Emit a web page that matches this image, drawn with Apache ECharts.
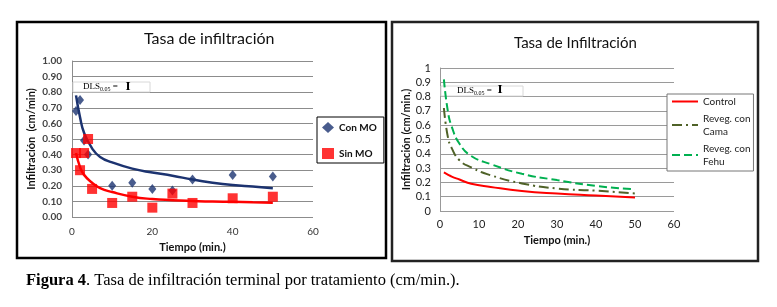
<!DOCTYPE html>
<html><head><meta charset="utf-8">
<script src="https://cdn.jsdelivr.net/npm/echarts@6/dist/echarts.min.js"></script>
<style>html,body{margin:0;padding:0;background:#fff}#c{width:777px;height:307px}</style>
</head><body><div id="c"></div>
<script>
// ---- Left panel data (Tasa de infiltración) ----
const conMOTime   = [1, 2, 3, 4, 10, 15, 20, 25, 30, 40, 50];
const conMOValues = [0.68, 0.75, 0.49, 0.40, 0.20, 0.22, 0.18, 0.17, 0.24, 0.27, 0.26];
const sinMOTime   = [1, 2, 3, 4, 5, 10, 15, 20, 25, 30, 40, 50];
const sinMOValues = [0.41, 0.30, 0.41, 0.50, 0.18, 0.09, 0.13, 0.06, 0.15, 0.09, 0.12, 0.13];
const trendTime   = [1, 2, 3, 5, 7, 10, 15, 20, 25, 30, 35, 40, 45, 50];
const conMOTrend  = [0.78, 0.64, 0.54, 0.44, 0.385, 0.35, 0.31, 0.285, 0.265, 0.24, 0.22, 0.205, 0.195, 0.185];
const sinMOTrend  = [0.41, 0.32, 0.27, 0.22, 0.185, 0.16, 0.13, 0.115, 0.108, 0.103, 0.099, 0.097, 0.094, 0.092];
// ---- Right panel data (Tasa de Infiltración) ----
const curveTime     = [1, 2, 3, 5, 8, 13, 21, 30, 40, 50];
const controlValues = [0.27, 0.255, 0.24, 0.22, 0.19, 0.168, 0.14, 0.122, 0.108, 0.094];
const camaValues    = [0.72, 0.52, 0.44, 0.355, 0.305, 0.25, 0.193, 0.157, 0.142, 0.122];
const fehuValues    = [0.92, 0.70, 0.59, 0.47, 0.385, 0.328, 0.26, 0.216, 0.175, 0.152];
// ---- Text ----
const leftTitle = 'Tasa de infiltración';
const rightTitle = 'Tasa de Infiltración';
const leftLegend = ['Con MO', 'Sin MO'];
const rightLegend = ['Control', 'Reveg. con\nCama', 'Reveg. con\nFehu'];

const pairs = (xs, ys) => xs.map((x, i) => [x, ys[i]]);
const F = 'Lato, "Open Sans", sans-serif';
const SERIF = '"Liberation Serif", "DejaVu Serif", serif';
const navy = '#1c3370';

const chart = echarts.init(document.getElementById('c'), null, {renderer: 'canvas'});
chart.setOption({
  animation: false,
  backgroundColor: '#fff',
  title: [
    {text: leftTitle, left: 139, top: 26, textStyle: {fontFamily: F, fontSize: 16, fontWeight: 'normal', color: '#111'}},
    {text: rightTitle, left: 509, top: 31, textStyle: {fontFamily: F, fontSize: 15, fontWeight: 'normal', color: '#111'}}
  ],
  grid: [
    {left: 72, top: 61, width: 241, height: 156},
    {left: 440, top: 68, width: 234, height: 143}
  ],
  xAxis: [
    {gridIndex: 0, type: 'value', min: 0, max: 60, interval: 20,
     name: 'Tiempo (min.)', nameLocation: 'middle', nameGap: 25,
     nameTextStyle: {fontFamily: F, fontSize: 11, fontWeight: 'bold', color: '#111'},
     axisLine: {show: false}, axisTick: {show: false}, splitLine: {show: false},
     axisLabel: {margin: 10, fontFamily: F, fontSize: 10, color: '#333'}},
    {gridIndex: 1, type: 'value', min: 0, max: 60, interval: 10,
     name: 'Tiempo (min.)', nameLocation: 'middle', nameGap: 24,
     nameTextStyle: {fontFamily: F, fontSize: 11, fontWeight: 'bold', color: '#111'},
     axisLine: {show: false}, axisTick: {show: false}, splitLine: {show: false},
     axisLabel: {margin: 8, fontFamily: F, fontSize: 11, color: '#222'}}
  ],
  yAxis: [
    {gridIndex: 0, type: 'value', min: 0, max: 1, interval: 0.1,
     name: 'Infiltración  (cm/min)', nameLocation: 'middle', nameGap: 35, nameRotate: 90,
     nameTextStyle: {fontFamily: F, fontSize: 11, fontWeight: 'bold', color: '#111'},
     axisLine: {show: true, lineStyle: {color: '#8c8c8c', width: 1}}, axisTick: {show: false},
     splitLine: {lineStyle: {color: '#8c8c8c', width: 1}},
     axisLabel: {margin: 10, fontFamily: F, fontSize: 10, fontWeight: 'bold', color: '#444', formatter: v => v.toFixed(2)}},
    {gridIndex: 1, type: 'value', min: 0, max: 1, interval: 0.1,
     name: 'Infiltración (cm/min.)', nameLocation: 'middle', nameGap: 28, nameRotate: 90,
     nameTextStyle: {fontFamily: F, fontSize: 11, fontWeight: 'bold', color: '#111'},
     axisLine: {show: true, lineStyle: {color: '#999', width: 1}}, axisTick: {show: false},
     splitLine: {lineStyle: {color: '#9a9a9a', width: 1}},
     axisLabel: {margin: 9, fontFamily: F, fontSize: 11, color: '#222',
       formatter: v => String(Math.round(v * 10) / 10)}}
  ],
  legend: [
    {data: [{name: leftLegend[0], icon: 'diamond'}, {name: leftLegend[1], icon: 'rect'}],
     orient: 'vertical', left: 317, top: 117, padding: [5, 7, 4, 5], itemGap: 15,
     itemWidth: 12, itemHeight: 11, borderColor: '#000', borderWidth: 1, backgroundColor: '#fff',
     textStyle: {fontFamily: F, fontSize: 10, fontWeight: 'bold', color: '#111'}},
    {data: rightLegend, orient: 'vertical', left: 667, top: 94, padding: [1, 3, 3, 4], itemGap: 4,
     itemWidth: 26, itemHeight: 12, borderColor: '#777', borderWidth: 1, backgroundColor: '#fff',
     itemStyle: {opacity: 0},
     textStyle: {fontFamily: F, fontSize: 10, color: '#222', lineHeight: 13}}
  ],
  graphic: [
    {type: 'rect', z: 10, shape: {x: 17, y: 22, width: 369, height: 236},
     style: {fill: 'none', stroke: '#000', lineWidth: 2.5}},
    {type: 'rect', z: 10, shape: {x: 392, y: 22, width: 366, height: 239},
     style: {fill: 'none', stroke: '#222', lineWidth: 2.5}},
    {type: 'rect', z: 1, shape: {x: 73, y: 82, width: 77, height: 10},
     style: {fill: '#fff', stroke: '#d8d8d8', lineWidth: 1}},
    {type: 'text', z: 5, x: 83, y: 87,
     style: {text: '{a|DLS}{b|0.05}{a| =}', verticalAlign: 'middle', rich: {
       a: {fontFamily: SERIF, fontSize: 9, fill: '#000'},
       b: {fontFamily: SERIF, fontSize: 6, fill: '#000', padding: [4, 0, 0, 0]}}}},
    {type: 'text', z: 5, x: 128, y: 87,
     style: {text: 'I', fontFamily: SERIF, fontSize: 13, fontWeight: 'bold', fill: '#000', align: 'center', verticalAlign: 'middle'}},
    {type: 'rect', z: 1, shape: {x: 441, y: 86, width: 82, height: 10},
     style: {fill: '#fff', stroke: '#d8d8d8', lineWidth: 1}},
    {type: 'text', z: 5, x: 457, y: 91,
     style: {text: '{a|DLS}{b|0.05}{a| =}', verticalAlign: 'middle', rich: {
       a: {fontFamily: SERIF, fontSize: 9, fill: '#000'},
       b: {fontFamily: SERIF, fontSize: 6, fill: '#000', padding: [4, 0, 0, 0]}}}},
    {type: 'text', z: 5, x: 500, y: 90,
     style: {text: 'I', fontFamily: SERIF, fontSize: 13, fontWeight: 'bold', fill: '#000', align: 'center', verticalAlign: 'middle'}},
    {type: 'text', z: 5, x: 26, y: 281,
     style: {text: '{b|Figura 4}{n|. Tasa de infiltración terminal por tratamiento (cm/min.).}', verticalAlign: 'middle', rich: {
       b: {fontFamily: SERIF, fontSize: 16.5, fontWeight: 'bold', fill: '#000'},
       n: {fontFamily: SERIF, fontSize: 16.5, fill: '#000'}}}}
  ],
  series: [
    {name: 'trendCon', type: 'line', xAxisIndex: 0, yAxisIndex: 0, smooth: true, symbol: 'none', z: 2,
     silent: true, lineStyle: {color: navy, width: 2.5}, data: pairs(trendTime, conMOTrend)},
    {name: 'trendSin', type: 'line', xAxisIndex: 0, yAxisIndex: 0, smooth: true, symbol: 'none', z: 2,
     silent: true, lineStyle: {color: '#ff0000', width: 2.5}, data: pairs(trendTime, sinMOTrend)},
    {name: leftLegend[0], type: 'scatter', xAxisIndex: 0, yAxisIndex: 0, symbol: 'diamond', symbolSize: [8, 10], z: 4,
     itemStyle: {color: navy}, data: pairs(conMOTime, conMOValues)},
    {name: leftLegend[1], type: 'scatter', xAxisIndex: 0, yAxisIndex: 0, symbol: 'rect', symbolSize: 10, z: 4,
     itemStyle: {color: '#ff0000'}, data: pairs(sinMOTime, sinMOValues)},
    {name: rightLegend[0], type: 'line', xAxisIndex: 1, yAxisIndex: 1, smooth: true, symbol: 'none', z: 3,
     itemStyle: {color: '#ff0000'}, lineStyle: {color: '#ff0000', width: 2}, data: pairs(curveTime, controlValues)},
    {name: rightLegend[1], type: 'line', xAxisIndex: 1, yAxisIndex: 1, smooth: true, symbol: 'none', z: 3,
     itemStyle: {color: '#4f6228'}, lineStyle: {color: '#4f6228', width: 2, type: [10, 4, 2, 4]}, data: pairs(curveTime, camaValues)},
    {name: rightLegend[2], type: 'line', xAxisIndex: 1, yAxisIndex: 1, smooth: true, symbol: 'none', z: 3,
     itemStyle: {color: '#00b050'}, lineStyle: {color: '#00b050', width: 2, type: [8, 4]}, data: pairs(curveTime, fehuValues)}
  ]
});
</script></body></html>
